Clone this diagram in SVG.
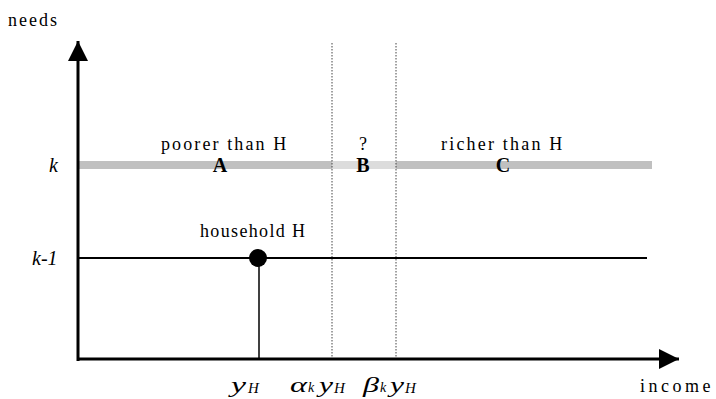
<svg xmlns="http://www.w3.org/2000/svg" width="716" height="399" viewBox="0 0 716 399">
<style>
.i{font-style:italic}
.b{font-weight:bold}
.dot{stroke:#444;stroke-width:1;stroke-dasharray:1.5 1.5}
</style>
<defs>
<marker id="ah" viewBox="0 0 20 20" refX="20" refY="10" markerWidth="20" markerHeight="20" markerUnits="userSpaceOnUse" orient="auto">
<path d="M0,0 L20,10 L0,20 Z" fill="#000"/>
</marker>
</defs>
<rect width="716" height="399" fill="#fff"/>
<g id="connectors">
<rect x="79" y="161" width="573" height="8" fill="#c0c0c0"/>
<rect x="332" y="161" width="64" height="8" fill="#dcdcdc"/>
<line x1="332" y1="43" x2="332" y2="358" class="dot"/>
<line x1="396" y1="43" x2="396" y2="358" class="dot"/>
<line x1="78" y1="258" x2="647" y2="258" stroke="#000" stroke-width="2"/>
<line x1="259" y1="258" x2="259" y2="359" stroke="#000" stroke-width="1.5"/>
<line x1="78" y1="361" x2="78" y2="41" stroke="#000" stroke-width="3" marker-end="url(#ah)"/>
<line x1="77" y1="359" x2="679" y2="359" stroke="#000" stroke-width="3" marker-end="url(#ah)"/>
</g>
<g font-family="'Liberation Serif', 'Times New Roman', serif" font-size="18" fill="#000">
<g id="household"><circle cx="258" cy="258" r="9" fill="#000"/><text x="200" y="237" letter-spacing="1.35">household H</text></g>
<g id="A"><text x="161" y="150" letter-spacing="2.1">poorer than H</text><text x="220" y="172" text-anchor="middle" class="b" font-size="20">A</text></g>
<g id="B"><text x="363" y="150" text-anchor="middle">?</text><text x="363" y="172" text-anchor="middle" class="b" font-size="20">B</text></g>
<g id="C"><text x="441" y="150" letter-spacing="2.2">richer than H</text><text x="503" y="172" text-anchor="middle" class="b" font-size="20">C</text></g>
<g id="labels">
<text x="8" y="26" letter-spacing="2">needs</text>
<text x="640" y="392" letter-spacing="3.5">income</text>
<text x="49" y="172" class="i" font-size="20">k</text>
<text x="32" y="265" class="i" font-size="20">k-1</text>
<g class="i">
<text x="231" y="392" font-size="21" textLength="15" lengthAdjust="spacingAndGlyphs">y</text>
<text x="248" y="393" font-size="15">H</text>
<text x="290" y="392" font-size="21" textLength="17" lengthAdjust="spacingAndGlyphs">α</text>
<text x="308" y="392" font-size="14">k</text>
<text x="319" y="392" font-size="21" textLength="14" lengthAdjust="spacingAndGlyphs">y</text>
<text x="334" y="393" font-size="15">H</text>
<text x="363" y="392" font-size="21" textLength="16" lengthAdjust="spacingAndGlyphs">β</text>
<text x="380" y="392" font-size="14">k</text>
<text x="390" y="392" font-size="21" textLength="14" lengthAdjust="spacingAndGlyphs">y</text>
<text x="405" y="393" font-size="15">H</text>
</g>
</g>
</g>
</svg>
